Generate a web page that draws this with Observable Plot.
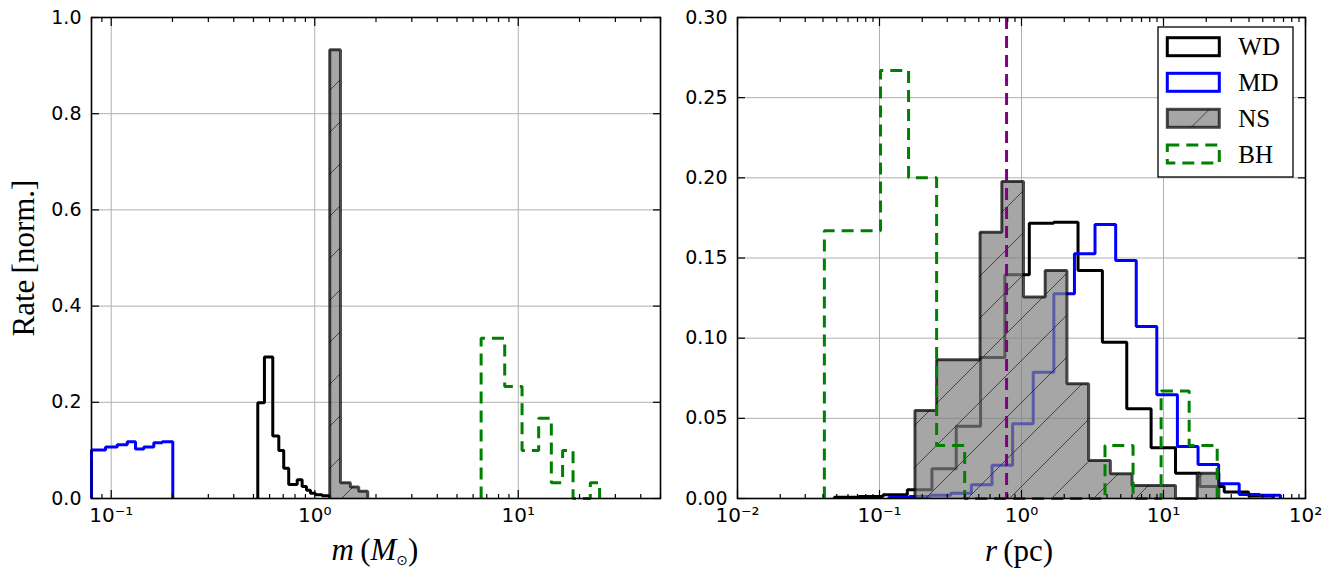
<!DOCTYPE html>
<html>
<head>
<meta charset="utf-8">
<script src="https://cdn.jsdelivr.net/npm/d3@7"></script>
<script src="https://cdn.jsdelivr.net/npm/@observablehq/plot@0.6"></script>
<style>
  body { margin: 0; background: #fff; }
  #wrap { position: relative; width: 1337px; height: 569px; overflow: hidden; background: #fff; }
  .panel { position: absolute; top: 0; }
  .lab { position: absolute; font-family: "Liberation Serif", serif; font-size: 31px; white-space: nowrap; color: #000; line-height: 1; }
  .lab sub { font-family: "DejaVu Sans"; font-size: 14px; vertical-align: -5px; }
</style>
</head>
<body>
<svg width="0" height="0" style="position:absolute">
  <defs>
    <pattern id="hatch" patternUnits="userSpaceOnUse" width="42" height="42">
      <path d="M0,42L42,0M-4,4L4,-4M38,46L46,38" stroke="#2a2a2a" stroke-width="0.8" fill="none"/>
    </pattern>
  </defs>
</svg>
<div id="wrap"></div>
<script>
// ---------- Left panel: mass distribution ----------
const mEdgesMD = [0.080, 0.0938, 0.1070, 0.1199, 0.1316, 0.1446, 0.1619, 0.1780, 0.2007];
const mRateMD  = [0.101, 0.107, 0.112, 0.118, 0.103, 0.107, 0.116, 0.118];

const mEdgesWD = [0.525, 0.566, 0.622, 0.666, 0.704, 0.745, 0.820, 0.867, 0.911, 0.953, 1.008, 1.087, 1.185];
const mRateWD  = [0.199, 0.294, 0.130, 0.100, 0.063, 0.029, 0.039, 0.025, 0.017, 0.011, 0.008, 0.0055];

const mEdgesNS = [1.185, 1.338, 1.497, 1.645, 1.821];
const mRateNS  = [0.933, 0.033, 0.024, 0.015];

const mEdgesBH = [6.57, 8.58, 10.44, 12.60, 14.54, 16.52, 18.59, 20.53, 22.60, 25.11];
const mRateBH  = [0.333, 0.233, 0.100, 0.167, 0.033, 0.100, 0, 0, 0.033];

// ---------- Right panel: radial distribution ----------
const rEdgesWD = [0.0481, 0.0714, 0.106, 0.157, 0.234, 0.347, 0.515, 0.764, 1.135, 1.684, 2.501, 3.712, 5.511, 8.18, 12.15, 18.03, 26.77, 39.73, 58.98];
const rRateWD  = [0.0008, 0.0012, 0.0023, 0.0054, 0.0185, 0.045, 0.088, 0.1395, 0.1717, 0.1723, 0.1422, 0.0975, 0.056, 0.0316, 0.0158, 0.0075, 0.004, 0.0015];

const rEdgesMD = [0.1166, 0.1628, 0.2277, 0.3178, 0.4435, 0.6201, 0.8658, 1.209, 1.690, 2.360, 3.294, 4.605, 6.428, 8.97, 12.53, 17.51, 24.45, 34.13, 47.71, 66.60];
const rRateMD  = [0.0008, 0.0012, 0.002, 0.0033, 0.0085, 0.0208, 0.0466, 0.0788, 0.1277, 0.1526, 0.1709, 0.1484, 0.1073, 0.0647, 0.0324, 0.0212, 0.0092, 0.0025, 0.002];

const rEdgesNS = [0.1777, 0.2525, 0.3593, 0.5107, 0.7268, 1.033, 1.468, 2.089, 2.969, 4.226, 6.005, 8.534, 12.15, 17.26, 24.53];
const rRateNS  = [0.0549, 0.0865, 0.0865, 0.166, 0.1977, 0.1256, 0.1422, 0.0715, 0.0237, 0.0154, 0.0081, 0.0081, 0, 0.0158];

const rEdgesBH = [0.0409, 0.0645, 0.1016, 0.1602, 0.2525, 0.398, 0.6272, 0.9887, 1.558, 2.457, 3.872, 6.104, 9.619, 15.16, 23.89];
const rRateBH  = [0.167, 0.167, 0.267, 0.2, 0.033, 0, 0, 0, 0, 0, 0.033, 0, 0.067, 0.033];

const rMarker = [0.785];

// ---------- Ticks ----------
const mMajor = [0.1, 1, 10];
const mMajorLabels = ["10\u207B\u00B9", "10\u2070", "10\u00B9"];
const mMinor = [0.08, 0.09, 0.2, 0.3, 0.4, 0.5, 0.6, 0.7, 0.8, 0.9, 2, 3, 4, 5, 6, 7, 8, 9, 20, 30, 40, 50];
const yLeftTicks = [0, 0.2, 0.4, 0.6, 0.8, 1.0];
const yLeftLabels = ["0.0", "0.2", "0.4", "0.6", "0.8", "1.0"];

const rMajor = [0.01, 0.1, 1, 10, 100];
const rMajorLabels = ["10\u207B\u00B2", "10\u207B\u00B9", "10\u2070", "10\u00B9", "10\u00B2"];
const rMinor = [0.02, 0.03, 0.04, 0.05, 0.06, 0.07, 0.08, 0.09, 0.2, 0.3, 0.4, 0.5, 0.6, 0.7, 0.8, 0.9,
                2, 3, 4, 5, 6, 7, 8, 9, 20, 30, 40, 50, 60, 70, 80, 90];
const yRightTicks = [0, 0.05, 0.10, 0.15, 0.20, 0.25, 0.30];
const yRightLabels = ["0.00", "0.05", "0.10", "0.15", "0.20", "0.25", "0.30"];

const legendNames = ["WD", "MD", "NS", "BH"];

// ---------- helpers ----------
function steps(edges, values) {
  const pts = [{x: edges[0], y: 0}];
  values.forEach((v, i) => pts.push({x: edges[i], y: v}));
  pts.push({x: edges[edges.length - 1], y: 0});
  return pts;
}
const C = {WD: "#000000", MD: "#0000ff", BH: "#008000", NSfill: "#808080", marker: "#800080"};
const LW = 3;
const dash = "12,7";

function hist(pts, stroke, extra = {}) {
  return Plot.line(pts, {x: "x", y: "y", curve: "step-after", stroke, strokeWidth: LW, strokeLinejoin: "miter", strokeLinecap: "butt", ...extra});
}
function nsMarks(pts) {
  return [
    Plot.areaY(pts, {x: "x", y: "y", curve: "step-after", fill: C.NSfill, fillOpacity: 0.7}),
    Plot.areaY(pts, {x: "x", y: "y", curve: "step-after", fill: "url(#hatch)"}),
    hist(pts, "black", {strokeOpacity: 0.7})
  ];
}
function frameAxes(xMajor, xLabels, xMinor, yTicks, yLabels) {
  const tk = {stroke: "black", strokeWidth: 1.2, fill: "none", label: null};
  return [
    Plot.frame({stroke: "black", strokeWidth: 1.6}),
    Plot.axisX(xMajor, {anchor: "bottom", tickSize: -8, ...tk}),
    Plot.axisX(xMajor, {anchor: "top", tickSize: -8, ...tk}),
    Plot.axisX(xMinor, {anchor: "bottom", tickSize: -4, ...tk}),
    Plot.axisX(xMinor, {anchor: "top", tickSize: -4, ...tk}),
    Plot.axisY(yTicks, {anchor: "left", tickSize: -8, ...tk}),
    Plot.axisY(yTicks, {anchor: "right", tickSize: -8, ...tk}),
    Plot.axisX(xMajor, {anchor: "bottom", tickSize: 0, tickPadding: 9, fontSize: 20, label: null,
      tickFormat: d => xLabels[xMajor.indexOf(d)]}),
    Plot.axisY(yTicks, {anchor: "left", tickSize: 0, tickPadding: 10, fontSize: 19, label: null,
      tickFormat: d => yLabels[yTicks.indexOf(d)]})
  ];
}
const grid = {stroke: "#b0b0b0", strokeOpacity: 1, strokeWidth: 1};
const style = {fontFamily: "DejaVu Sans", fontSize: "19px", color: "black", background: "transparent", overflow: "visible"};

const left = Plot.plot({
  width: 668, height: 569,
  marginLeft: 91, marginRight: 8, marginTop: 17, marginBottom: 71,
  style,
  x: {type: "log", domain: [0.08, 50], axis: null},
  y: {domain: [0, 1], axis: null},
  marks: [
    Plot.gridX(mMajor, grid),
    Plot.gridY(yLeftTicks, grid),
    hist(steps(mEdgesMD, mRateMD), C.MD),
    hist(steps(mEdgesWD, mRateWD), C.WD),
    ...nsMarks(steps(mEdgesNS, mRateNS)),
    hist(steps(mEdgesBH, mRateBH), C.BH, {strokeDasharray: dash}),
    ...frameAxes(mMajor, mMajorLabels, mMinor, yLeftTicks, yLeftLabels)
  ]
});

const right = Plot.plot({
  width: 669, height: 569,
  marginLeft: 69, marginRight: 32, marginTop: 17, marginBottom: 71,
  style,
  x: {type: "log", domain: [0.01, 100], axis: null},
  y: {domain: [0, 0.3], axis: null},
  marks: [
    Plot.gridX(rMajor, grid),
    Plot.gridY(yRightTicks, grid),
    hist(steps(rEdgesWD, rRateWD), C.WD),
    hist(steps(rEdgesMD, rRateMD), C.MD),
    ...nsMarks(steps(rEdgesNS, rRateNS)),
    hist(steps(rEdgesBH, rRateBH), C.BH, {strokeDasharray: dash}),
    Plot.ruleX(rMarker, {stroke: C.marker, strokeWidth: LW, strokeDasharray: dash}),
    ...frameAxes(rMajor, rMajorLabels, rMinor, yRightTicks, yRightLabels)
  ]
});

const wrap = document.getElementById("wrap");
left.classList.add("panel"); left.style.left = "0px";
right.classList.add("panel"); right.style.left = "668px";
wrap.appendChild(left);
wrap.appendChild(right);

// ---------- axis titles ----------
function addLabel(html, x, y, rotate) {
  const d = document.createElement("div");
  d.className = "lab";
  d.innerHTML = html;
  d.style.left = x + "px";
  d.style.top = y + "px";
  d.style.transform = "translate(-50%,-50%)" + (rotate ? " rotate(-90deg)" : "");
  wrap.appendChild(d);
}
addLabel("Rate\u2009[norm.]", 23, 258, true);
addLabel("<i>m</i>\u2009(<i>M</i><sub>\u2299</sub>)", 375, 550, false);
addLabel("<i>r</i>\u2009(pc)", 1019, 550, false);

// ---------- legend ----------
const lg = d3.select(wrap).append("svg")
  .attr("width", 138).attr("height", 153)
  .style("position", "absolute").style("left", "1157px").style("top", "26px");
lg.append("rect").attr("x", 1).attr("y", 1).attr("width", 135).attr("height", 150)
  .attr("fill", "white").attr("stroke", "black").attr("stroke-width", 1.3);
const rowY = [20.7, 56.3, 92.3, 128];
legendNames.forEach((name, i) => {
  const g = lg.append("g").attr("transform", `translate(10.3,${rowY[i] - 9})`);
  if (name === "NS") {
    g.append("rect").attr("width", 52).attr("height", 18).attr("fill", C.NSfill).attr("fill-opacity", 0.7);
    g.append("rect").attr("width", 52).attr("height", 18).attr("fill", "url(#hatch)");
    g.append("rect").attr("width", 52).attr("height", 18).attr("fill", "none").attr("stroke", "black").attr("stroke-opacity", 0.7).attr("stroke-width", LW);
  } else {
    g.append("rect").attr("width", 52).attr("height", 18).attr("fill", "none")
      .attr("stroke", C[name]).attr("stroke-width", LW)
      .attr("stroke-dasharray", name === "BH" ? dash : null);
  }
  lg.append("text").attr("x", 81.3).attr("y", rowY[i] + 8.5)
    .attr("font-family", "Liberation Serif").attr("font-size", 25).attr("fill", "black").text(name);
});
</script>
</body>
</html>
